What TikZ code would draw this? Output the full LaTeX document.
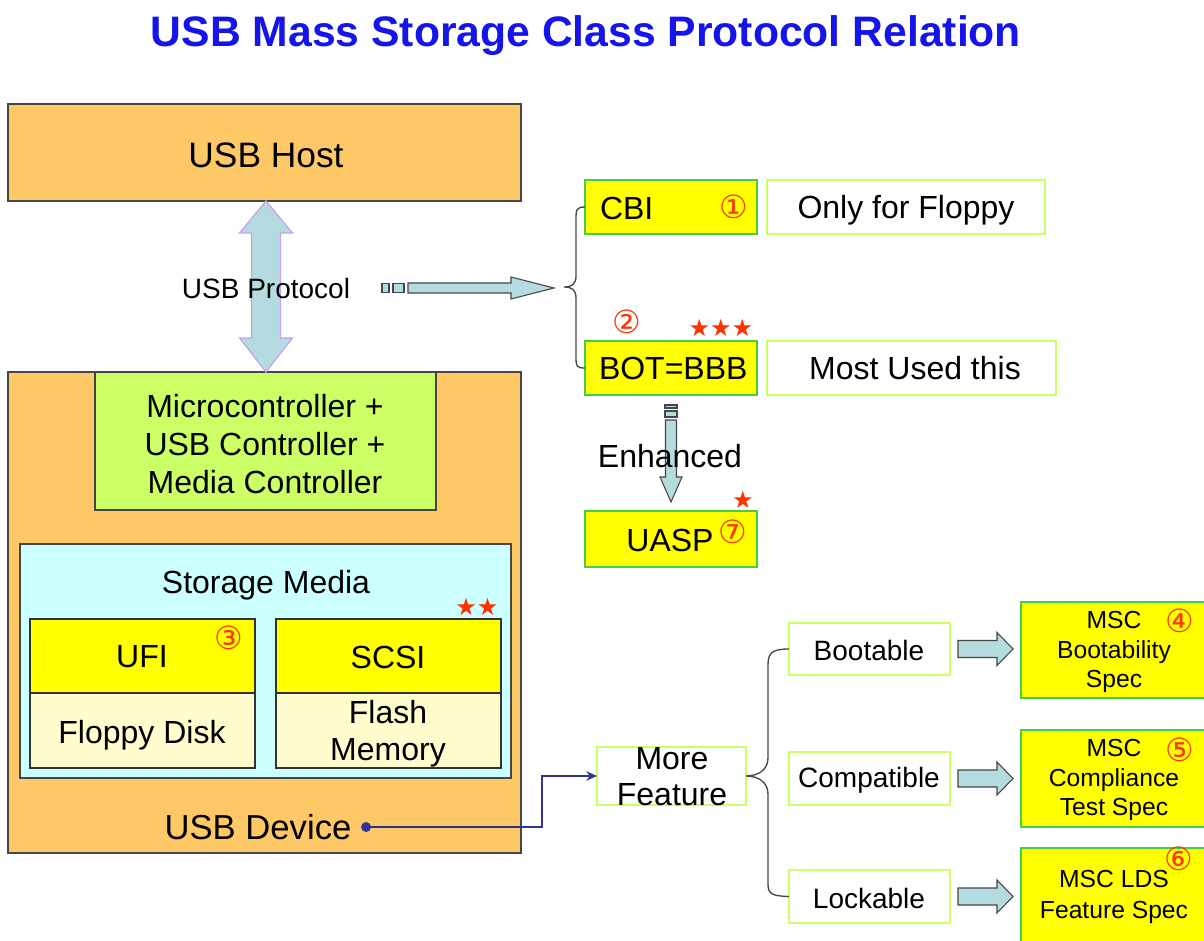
\documentclass[tikz,border=0pt]{standalone}
\usepackage{fontspec}
\setmainfont{Liberation Sans}
\newfontfamily\dvfont{DejaVu Sans}
\usetikzlibrary{fit,calc,arrows.meta}
\definecolor{orng}{RGB}{255,200,102}
\definecolor{ylw}{RGB}{255,255,0}
\definecolor{grn}{RGB}{70,205,70}
\definecolor{lgrn}{RGB}{204,255,102}
\definecolor{lcyan}{RGB}{204,255,255}
\definecolor{lylw}{RGB}{255,252,206}
\definecolor{arr}{RGB}{180,220,224}
\definecolor{lav}{RGB}{200,160,240}
\definecolor{ttl}{RGB}{20,20,235}
\definecolor{numred}{RGB}{255,50,0}
\definecolor{dblue}{RGB}{50,50,150}
\definecolor{bord}{RGB}{70,70,70}
\begin{document}
\begin{tikzpicture}[x=0.75pt,y=-0.75pt,
  every node/.style={inner sep=0pt,outer sep=0pt},
  f24/.style={font=\fontsize{24}{28.5}\selectfont},
  f21/.style={font=\fontsize{21}{25}\selectfont},
  obox/.style={draw=bord,fill=orng,line width=1pt},
  ybox/.style={draw=grn,fill=ylw,line width=1.8pt},
  wbox/.style={draw=lgrn,fill=white,line width=1.5pt},
  mbox/.style={draw=black!80,line width=1.5pt},
  blk/.style={draw=bord,fill=arr,line width=0.8pt},
  dblarrow/.style={draw=lav,fill=arr,line width=0.9pt},
  bracesty/.style={draw=bord,line width=1pt},
  num/.style={text=numred,font=\dvfont\fontsize{24}{24}\selectfont},
  stars/.style={text=numred,font=\dvfont\fontsize{18}{18}\selectfont},
]
\useasboundingbox (0,0) rectangle (1204,941);
\fill[white] (0,0) rectangle (1204,941);

% title
\node[font=\bfseries\fontsize{32}{38}\selectfont,text=ttl] (title) at (586,36) {USB Mass Storage Class Protocol Relation};

% left column
\node[obox,fit={(8,104)(521,201)}] (host) {};
\node[font=\fontsize{26.5}{30}\selectfont] (hostt) at (266,155) {USB Host};
\node[obox,fit={(8,372)(521,853)}] (dev) {};
\node[draw=bord,fill=lgrn,line width=1pt,fit={(95,372)(436,510)}] (micro) {};
\node[align=center,font=\fontsize{24}{28.5}\selectfont] (microt) at (265,444) {Microcontroller +\\USB Controller +\\Media Controller};
\node[draw=bord,fill=lcyan,line width=1pt,fit={(20,544)(511,778)}] (stor) {};
\node[f24] (storlbl) at (266,585) {Storage Media};
\node[mbox,fill=ylw,fit={(30,619)(255,693)}] (ufi) {};
\node[f24] (ufit) at (142,657) {UFI};
\node[mbox,fill=lylw,fit={(30,693)(255,768)}] (floppy) {};
\node[f24] (floppyt) at (142,735) {Floppy Disk};
\node[mbox,fill=ylw,fit={(276,619)(501,693)}] (scsi) {};
\node[f24] (scsit) at (388,657) {SCSI};
\node[mbox,fill=lylw,fit={(276,693)(501,768)}] (flash) {};
\node[align=center,font=\fontsize{24}{27.75}\selectfont] (flasht) at (388,734) {Flash\\Memory};
\node[num] (n3) at (229,638) {③};
\node[stars] (s2) at (477,607) {★★};
\node[font=\fontsize{26}{30}\selectfont] (devlbl) at (258,827) {USB Device};

% double arrow
\path ($(host.south)+(1.5,0)$) coordinate (dt);
\path ($(dev.north)+(1.5,0)$) coordinate (db);
\filldraw[dblarrow] (dt) -- ++(26.5,32) -- ++(-12,0) -- ++(0,105) -- ++(12,0) -- (db)
  -- ++(-26.5,-34) -- ++(12,0) -- ++(0,-105) -- ++(-12,0) -- cycle;
\node[f21] (proto) at (266,288) {USB Protocol};

% protocol arrow to brace
\coordinate (b1) at (564,287);
\coordinate (pa) at (382,288);
\filldraw[blk] (pa) ++(0,-4.5) rectangle ++(7,9);
\filldraw[blk] (pa) ++(11,-4.5) rectangle ++(11,9);
\filldraw[blk] (pa) ++(26,-5) -- ++(103,0) -- ++(0,-6) -- ++(43,11) -- ++(-43,11) -- ++(0,-6) -- ++(-103,0) -- cycle;

% right top
\node[ybox,fit={(585,180)(757,234)}] (cbi) {};
\node[f24,anchor=west] (cbit) at (600,208) {CBI};
\node[num] (n1) at (734,207) {①};
\node[wbox,fit={(767,180)(1045,234)}] (only) {};
\node[f24] (onlyt) at (906,210) {Only for Floppy};
\node[ybox,fit={(585,341)(757,395)}] (bot) {};
\node[f24,anchor=west] (bott) at (599,368) {BOT=BBB};
\node[wbox,fit={(767,341)(1056,395)}] (most) {};
\node[f24] (mostt) at (915,368) {Most Used this};
\node[num] (n2) at (627,322) {②};
\node[stars] (s3) at (721,328) {★★★};
\node[ybox,fit={(585,511)(757,567)}] (uasp) {};
\node[f24] (uaspt) at (670,540) {UASP};
\node[num] (n7) at (733,532) {⑦};
\node[stars] (s1) at (743,500) {★};

% brace 1
\draw[bracesty] (cbi.west) .. controls (576,207) and (576,210) .. (576,220) -- (576,276)
  .. controls (576,284) and (572,287) .. (b1)
  .. controls (572,287) and (576,290) .. (576,298) -- (576,356)
  .. controls (576,366) and (576,368) .. (bot.west);

% enhanced arrow
\filldraw[blk] (bot.south) ++(-6,10) rectangle ++(12,3);
\filldraw[blk] (bot.south) ++(-6,16) rectangle ++(12,6);
\filldraw[blk] (bot.south) ++(-5.5,25) -- ++(11,0) -- ++(0,57) -- ++(5.5,0) -- ++(-11,25) -- ++(-11,-25) -- ++(5.5,0) -- cycle;
\node[f24] (enh) at (670,456) {Enhanced};

% more feature
\node[wbox,fit={(597,747)(746,805)}] (more) {};
\node[align=center,font=\fontsize{24}{27}\selectfont] (moret) at (672,777) {More\\Feature};
\node[wbox,fit={(789,623)(950,675)}] (boot) {};
\node[f21] (boott) at (869,650) {Bootable};
\node[wbox,fit={(789,752)(950,805)}] (compat) {};
\node[f21] (compatt) at (869,780) {Compatible};
\node[wbox,fit={(789,870)(950,923)}] (lock) {};
\node[f21] (lockt) at (869,898) {Lockable};

\draw[bracesty] (boot.west) .. controls (772,649) and (768,653) .. (768,665) -- (768,758)
  .. controls (768,770) and (758,776) .. (more.east)
  .. controls (758,776) and (768,782) .. (768,794) -- (768,884)
  .. controls (768,894) and (772,896) .. (lock.west);

\node[ybox,fit={(1021,602)(1207,698)}] (spec1) {};
\node[align=center,font=\fontsize{18.5}{22}\selectfont] (spec1t) at (1114,652) {MSC\\Bootability\\Spec};
\node[ybox,fit={(1021,730)(1207,827)}] (spec2) {};
\node[align=center,font=\fontsize{18.5}{22}\selectfont] (spec2t) at (1114,780) {MSC\\Compliance\\Test Spec};
\node[ybox,fit={(1021,848)(1207,946)}] (spec3) {};
\node[align=center,font=\fontsize{18.5}{23}\selectfont] (spec3t) at (1114,897) {MSC LDS\\Feature Spec};
\node[num] (n4) at (1180,621) {④};
\node[num] (n5) at (1180,750) {⑤};
\node[num] (n6) at (1179,859) {⑥};

\foreach \b in {boot,compat,lock}{
  \filldraw[blk] (\b.east) ++(8,-8.5) -- ++(39,0) -- ++(0,-8) -- ++(16,16.5) -- ++(-16,16.5) -- ++(0,-8) -- ++(-39,0) -- cycle;
}

% blue connector
\coordinate (dot) at ([xshift=11pt]devlbl.east);
\fill[dblue] (dot) circle (5);
\draw[dblue,line width=2pt,-{Stealth[length=8pt,width=7pt]}] (dot) -- ++(176,0) |- (more.west);
\end{tikzpicture}
\end{document}
